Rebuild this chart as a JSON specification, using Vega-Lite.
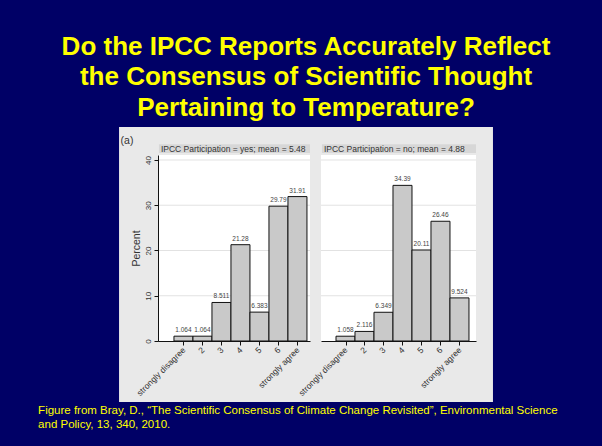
{
  "$schema": "https://vega.github.io/schema/vega-lite/v6.json",
  "background": "#000066",
  "padding": {"left": 38, "top": 33, "right": 44, "bottom": 16},
  "autosize": {"type": "pad"},
  "config": {"font": "Liberation Sans", "view": {"stroke": null}, "axis": {"labelOverlap": false, "labelFlush": false}},
  "datasets": {
    "survey": [
      {"panel": "yes", "resp": 1, "pct": 1.064},
      {"panel": "yes", "resp": 2, "pct": 1.064},
      {"panel": "yes", "resp": 3, "pct": 8.511},
      {"panel": "yes", "resp": 4, "pct": 21.28},
      {"panel": "yes", "resp": 5, "pct": 6.383},
      {"panel": "yes", "resp": 6, "pct": 29.79},
      {"panel": "yes", "resp": 7, "pct": 31.91},
      {"panel": "no", "resp": 1, "pct": 1.058},
      {"panel": "no", "resp": 2, "pct": 2.116},
      {"panel": "no", "resp": 3, "pct": 6.349},
      {"panel": "no", "resp": 4, "pct": 34.39},
      {"panel": "no", "resp": 5, "pct": 20.11},
      {"panel": "no", "resp": 6, "pct": 26.46},
      {"panel": "no", "resp": 7, "pct": 9.524}
    ],
    "grid": [{"g": 10}, {"g": 20}, {"g": 30}, {"g": 40}]
  },
  "title": {
    "text": ["Figure from Bray, D., “The Scientific Consensus of Climate Change Revisited”, Environmental Science", "and Policy, 13, 340, 2010."],
    "orient": "bottom",
    "anchor": "start",
    "dx": -23,
    "offset": 3,
    "fontSize": 11.5,
    "lineHeight": 14,
    "fontWeight": "normal",
    "color": "#ffff00",
    "font": "Liberation Sans"
  },
  "vconcat": [
    {
      "title": {
        "text": ["Do the IPCC Reports Accurately Reflect", "the Consensus of Scientific Thought", "Pertaining to Temperature?"],
        "anchor": "middle",
        "dx": 0,
        "fontSize": 26,
        "lineHeight": 30.5,
        "fontWeight": "bold",
        "color": "#ffff00",
        "font": "Liberation Sans",
        "offset": 6
      },
      "bounds": "flush",
      "spacing": 11,
      "hconcat": [
        {
          "width": 152,
          "height": 186,
          "layer": [
            {
              "data": {"values": [{}]},
              "mark": {"type": "rect", "fill": "#e9e9e9"},
              "encoding": {
                "x": {"datum": -2.39, "type": "quantitative", "scale": {"domain": [-0.34, 7.66], "nice": false, "zero": false, "padding": 0}},
                "x2": {"datum": 17.29},
                "y": {"datum": -13.48, "type": "quantitative", "scale": {"domain": [0, 41.1], "nice": false, "zero": false, "padding": 0}},
                "y2": {"datum": 47.29}
              }
            },
            {
              "data": {"values": [{}]},
              "mark": {"type": "rect", "fill": "white"},
              "encoding": {
                "x": {"datum": -0.34, "type": "quantitative"},
                "x2": {"datum": 7.66},
                "y": {"datum": 0, "type": "quantitative"},
                "y2": {"datum": 41.1}
              }
            },
            {
              "data": {"values": [{}]},
              "mark": {"type": "rect", "fill": "#d7d7d7"},
              "encoding": {
                "x": {"datum": -0.29, "type": "quantitative"},
                "x2": {"datum": 7.66},
                "y": {"datum": 41.55, "type": "quantitative"},
                "y2": {"datum": 43.5}
              }
            },
            {
              "data": {"values": [{}]},
              "mark": {"type": "text", "text": "IPCC Participation = yes; mean = 5.48", "align": "left", "baseline": "middle", "fontSize": 8.5, "color": "#333333", "dx": 2},
              "encoding": {
                "x": {"datum": -0.29, "type": "quantitative"},
                "y": {"datum": 42.5, "type": "quantitative"}
              }
            },
            {
              "data": {"values": [{}]},
              "mark": {"type": "text", "text": "(a)", "align": "center", "baseline": "middle", "fontSize": 10.5, "color": "#333333"},
              "encoding": {
                "x": {"datum": -1.97, "type": "quantitative"},
                "y": {"datum": 44.2, "type": "quantitative"}
              }
            },
            {
              "data": {"name": "grid"},
              "mark": {"type": "rule", "color": "#e2e2e2", "strokeWidth": 1},
              "encoding": {
                "x": {"datum": -0.34, "type": "quantitative"},
                "x2": {"datum": 7.66},
                "y": {"field": "g", "type": "quantitative"}
              }
            },
            {
              "data": {"name": "survey"},
              "transform": [{"filter": "datum.panel == 'yes'"}],
              "mark": {"type": "bar", "width": 19, "fill": "#c9c9c9", "stroke": "#111111", "strokeWidth": 1},
              "encoding": {
                "x": {
                  "field": "resp", "type": "quantitative",
                  "axis": {
                    "values": [1, 2, 3, 4, 5, 6, 7],
                    "tickCount": 10,
                    "labelExpr": "datum.value == 1 ? 'strongly disagree' : datum.value == 7 ? 'strongly agree' : '' + datum.value",
                    "labelAngle": -45, "labelAlign": "right", "labelBaseline": "middle",
                    "labelFontSize": 8.5, "labelColor": "#333333", "labelPadding": 3,
                    "labelOverlap": false, "labelFlush": false,
                    "tickColor": "#111111", "tickSize": 4, "domainColor": "#111111",
                    "title": null, "grid": false, "zindex": 1
                  }
                },
                "y": {
                  "field": "pct", "type": "quantitative",
                  "axis": {
                    "values": [0, 10, 20, 30, 40],
                    "tickCount": 10,
                    "labelAngle": 270, "labelAlign": "center", "labelBaseline": "bottom",
                    "labelFontSize": 8, "labelColor": "#333333", "labelPadding": 2,
                    "labelOverlap": false, "labelFlush": false,
                    "tickColor": "#111111", "tickSize": 4, "domainColor": "#111111",
                    "title": "Percent", "titleFontSize": 10.5, "titleFontWeight": "normal", "titleColor": "#333333", "titlePadding": 3,
                    "grid": false, "zindex": 1
                  }
                }
              }
            },
            {
              "data": {"name": "survey"},
              "transform": [{"filter": "datum.panel == 'yes'"}],
              "mark": {"type": "text", "baseline": "bottom", "dy": -3, "fontSize": 6.5, "color": "#444444"},
              "encoding": {
                "x": {"field": "resp", "type": "quantitative"},
                "y": {"field": "pct", "type": "quantitative"},
                "text": {"field": "pct", "type": "quantitative", "format": ".4"}
              }
            }
          ]
        },
        {
          "width": 155,
          "height": 186,
          "layer": [
            {
              "data": {"values": [{}]},
              "mark": {"type": "rect", "fill": "white"},
              "encoding": {
                "x": {"datum": -0.29, "type": "quantitative", "scale": {"domain": [-0.29, 7.87], "nice": false, "zero": false, "padding": 0}},
                "x2": {"datum": 7.87},
                "y": {"datum": 0, "type": "quantitative", "axis": null, "scale": {"domain": [0, 41.1], "nice": false, "zero": false, "padding": 0}},
                "y2": {"datum": 41.1}
              }
            },
            {
              "data": {"values": [{}]},
              "mark": {"type": "rect", "fill": "#d7d7d7"},
              "encoding": {
                "x": {"datum": -0.24, "type": "quantitative"},
                "x2": {"datum": 7.87},
                "y": {"datum": 41.55, "type": "quantitative", "axis": null},
                "y2": {"datum": 43.5}
              }
            },
            {
              "data": {"values": [{}]},
              "mark": {"type": "text", "text": "IPCC Participation = no; mean = 4.88", "align": "left", "baseline": "middle", "fontSize": 8.5, "color": "#333333", "dx": 2},
              "encoding": {
                "x": {"datum": -0.24, "type": "quantitative"},
                "y": {"datum": 42.5, "type": "quantitative", "axis": null}
              }
            },
            {
              "data": {"name": "grid"},
              "mark": {"type": "rule", "color": "#e2e2e2", "strokeWidth": 1},
              "encoding": {
                "x": {"datum": -0.29, "type": "quantitative"},
                "x2": {"datum": 7.87},
                "y": {"field": "g", "type": "quantitative", "axis": null}
              }
            },
            {
              "data": {"name": "survey"},
              "transform": [{"filter": "datum.panel == 'no'"}],
              "mark": {"type": "bar", "width": 19, "fill": "#c9c9c9", "stroke": "#111111", "strokeWidth": 1},
              "encoding": {
                "x": {
                  "field": "resp", "type": "quantitative",
                  "axis": {
                    "values": [1, 2, 3, 4, 5, 6, 7],
                    "tickCount": 10,
                    "labelExpr": "datum.value == 1 ? 'strongly disagree' : datum.value == 7 ? 'strongly agree' : '' + datum.value",
                    "labelAngle": -45, "labelAlign": "right", "labelBaseline": "middle",
                    "labelFontSize": 8.5, "labelColor": "#333333", "labelPadding": 3,
                    "labelOverlap": false, "labelFlush": false,
                    "tickColor": "#111111", "tickSize": 4, "domainColor": "#111111",
                    "title": null, "grid": false, "zindex": 1
                  }
                },
                "y": {"field": "pct", "type": "quantitative", "axis": null}
              }
            },
            {
              "data": {"name": "survey"},
              "transform": [{"filter": "datum.panel == 'no'"}],
              "mark": {"type": "text", "baseline": "bottom", "dy": -3, "fontSize": 6.5, "color": "#444444"},
              "encoding": {
                "x": {"field": "resp", "type": "quantitative"},
                "y": {"field": "pct", "type": "quantitative", "axis": null},
                "text": {"field": "pct", "type": "quantitative", "format": ".4"}
              }
            }
          ]
        }
      ]
    }
  ]
}
